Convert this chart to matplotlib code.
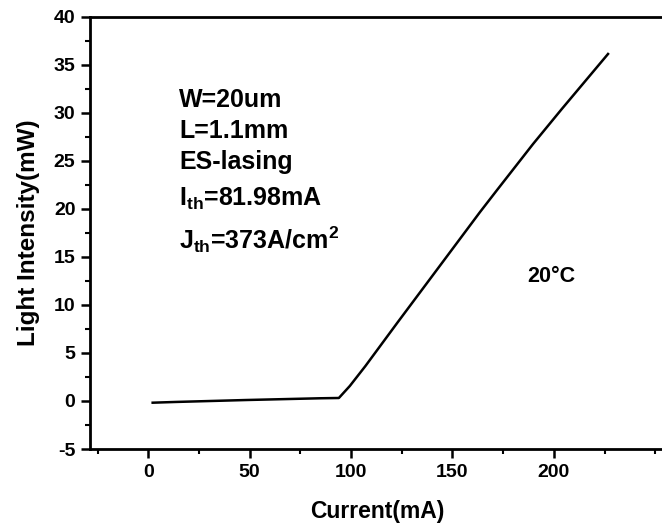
import matplotlib
matplotlib.use("Agg")
import matplotlib.pyplot as plt
from matplotlib.ticker import MultipleLocator

plt.rcParams['font.family'] = ['Liberation Sans', 'DejaVu Sans']
plt.rcParams['font.weight'] = 'bold'
plt.rcParams['mathtext.default'] = 'regular'
plt.rcParams['axes.unicode_minus'] = False

current = [2.2, 14, 48.5, 84.7, 94.0, 99.4, 107.1, 123.1, 140.4, 163.6, 172.0, 189.7, 203.9, 226.7]
power = [-0.18, -0.1, 0.1, 0.28, 0.31, 1.56, 3.64, 8.22, 13.11, 19.67, 21.96, 26.74, 30.39, 36.12]

xticks = [0, 50, 100, 150, 200]
yticks = [-5, 0, 5, 10, 15, 20, 25, 30, 35, 40]

fig = plt.figure(figsize=(6.62, 5.32), dpi=100)
W, H = 662, 532
ax = fig.add_axes([90 / W, (H - 449) / H, (664 - 90) / W, (449 - 16.7) / H])

ax.plot(current, power, color='black', lw=1.8)

ax.set_xlim(-28.7, 254.3)
ax.set_ylim(-5, 40)
ax.set_xticks(xticks)
ax.set_yticks(yticks)
ax.xaxis.set_minor_locator(MultipleLocator(25))
ax.yaxis.set_minor_locator(MultipleLocator(2.5))
ax.tick_params(which='major', direction='out', length=6.5, width=1.8, labelsize=14, pad=4)
ax.tick_params(which='minor', direction='out', length=3.6, width=1.5)
for lab in ax.get_xticklabels() + ax.get_yticklabels():
    lab.set_fontweight('bold')
for s in ['left', 'bottom', 'top']:
    ax.spines[s].set_linewidth(2)
ax.spines['right'].set_visible(False)

ax.set_xlabel('Current(mA)', fontsize=16.5, fontweight='bold', labelpad=14)
ax.set_ylabel('Light Intensity(mW)', fontsize=17.5, fontweight='bold', labelpad=10)

lines = ['W=20um', 'L=1.1mm', 'ES-lasing', r'I$_{th}$=81.98mA', r'J$_{th}$=373A/cm$^2$']
ys = [100, 131, 162, 199, 240]
for t, y in zip(lines, ys):
    fig.text(179 / W, 1 - y / H, t, fontsize=18, fontweight='bold', va='center', ha='left')

fig.text(527 / W, 1 - 277 / H, '20°C', fontsize=15.5, fontweight='bold', va='center', ha='left')

fig.savefig('out.png', dpi=100)
